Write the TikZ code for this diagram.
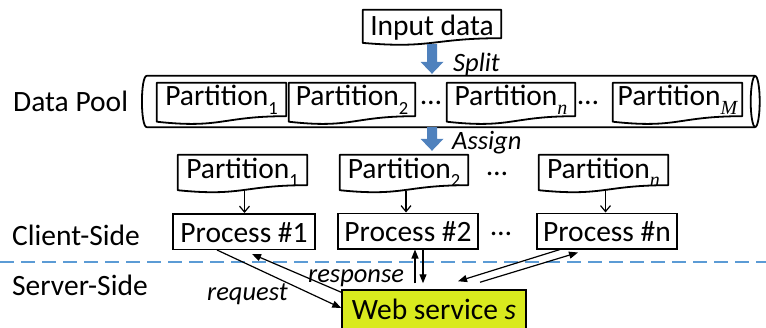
\documentclass[tikz,border=0pt]{standalone}
\usepackage{fontspec}
\setmainfont{Carlito}
\newfontfamily\subserif{Liberation Serif}
\usetikzlibrary{arrows.meta,calc}

\definecolor{arrowblue}{RGB}{79,129,189}
\definecolor{dashblue}{RGB}{91,155,213}
\definecolor{wsyellow}{RGB}{217,234,30}

% lowered subscripts: upright digit / italic letter
\newcommand\psub[1]{\raisebox{-0.3em}{\fontsize{18.5}{18.5}\selectfont #1}}
\newcommand\isub[1]{\raisebox{-0.3em}{\fontsize{20}{20}\selectfont\subserif\itshape #1}}

% page-style box with a wavy lower edge, drawn around a named node
\newcommand\docshape[1]{%
  \draw[docline] let \p1=(#1.north west), \p2=(#1.south east), \n1={\y1-\y2} in
    (\x1,\y1) -- (\x2,\y1) -- (\x2,\y2)
    .. controls ({(\x1+\x2)/2},\y2) and ({(\x1+\x2)/2},{\y2-0.38*\n1}) ..
    (\x1,{\y2-0.165*\n1}) -- cycle;}

% broad blue block arrow between two named points
\newcommand\blockarrow[2]{%
  \fill[arrowblue] let \p1=(#1), \p2=(#2) in
    (\x1-5pt,\y1) -- (\x1+5pt,\y1) -- (\x1+5pt,\y2+12pt) -- (\x1+11.5pt,\y2+12pt)
    -- (\x1,\y2) -- (\x1-11.5pt,\y2+12pt) -- (\x1-5pt,\y2+12pt) -- cycle;}

\tikzset{
  txt/.style={font=\fontsize{29.5}{30}\selectfont},
  docline/.style={line width=1.8pt, line join=round},
  docnode/.style={txt, inner sep=0pt, text height=19pt, text depth=#1},
  docnode/.default=7pt,
  procbox/.style={txt, draw, line width=1.5pt, inner sep=0pt,
    minimum height=35.5pt, text height=21pt, text depth=0pt},
  sidelbl/.style={txt, anchor=base west, inner sep=0pt},
  itlbl/.style={font=\fontsize{26.5}{28}\selectfont\itshape, anchor=base west, inner sep=0pt},
  dots/.style={txt, anchor=base, inner sep=0pt},
  msg/.style={line width=1.2pt, -{Triangle[length=9pt,width=7pt]}},
  feed/.style={line width=1.2pt, -{Straight Barb[length=6pt,width=10pt]}},
}

\begin{document}
\begin{tikzpicture}[x=1pt,y=-1pt]
\useasboundingbox (0,0) rectangle (766,327);
\clip (0,0) rectangle (766,327);

% input document
\node[docnode, text height=23pt, text depth=0pt, minimum width=138pt, minimum height=28pt]
  (indoc) at (432,24) {Input data};
\docshape{indoc}

% data pool cylinder
\node[inner sep=0pt, minimum width=618pt, minimum height=51pt] (pool) at (451,101.5) {};
\draw[docline] ([xshift=5pt]pool.north west) -- ([xshift=-5pt]pool.north east)
  ([xshift=5pt]pool.south west) -- ([xshift=-5pt]pool.south east)
  ([xshift=5pt]pool.north west) .. controls ([xshift=-1.5pt]pool.north west)
    and ([xshift=-1.5pt]pool.south west) .. ([xshift=5pt]pool.south west);
\draw[docline] ([xshift=-5pt]pool.east) ellipse [x radius=4.5pt, y radius=25.5pt];

% partitions inside the pool
\node[docnode, minimum width=129pt, minimum height=33pt] (pp1) at (221.5,99.5) {Partition\psub{1}};
\node[docnode, minimum width=126pt, minimum height=33pt] (pp2) at (352,99.5) {Partition\psub{2}};
\node[docnode, minimum width=128pt, minimum height=33pt] (ppn) at (511,99.5) {Partition\isub{n}};
\node[docnode, minimum width=129pt, minimum height=33pt] (ppm) at (677.5,99.5) {Partition\isub{M}};
\foreach \d in {pp1,pp2,ppn,ppm} {\docshape{\d}}
\node[dots] (pdots1) at (431,104) {…};
\node[dots] (pdots2) at (588,104) {…};

% assigned partitions
\node[docnode=3pt, minimum width=129pt, minimum height=30pt] (rp1) at (242.5,170) {Partition\psub{1}};
\node[docnode=3pt, minimum width=128pt, minimum height=30pt] (rp2) at (404,170) {Partition\psub{2}};
\node[docnode=3pt, minimum width=129pt, minimum height=30pt] (rpn) at (603.5,170) {Partition\isub{n}};
\foreach \d in {rp1,rp2,rpn} {\docshape{\d}}
\node[dots] (rdots) at (497,175) {…};

% client processes
\node[procbox, minimum width=142pt] (pr1) at (244,231.5) {Process \#1};
\node[procbox, minimum width=140pt] (pr2) at (408,231) {Process \#2};
\node[procbox, minimum width=140pt] (prn) at (607,231) {Process \#n};
\node[dots] (prdots) at (501,235) {…};

% web service
\node[txt, draw, fill=wsyellow, line width=1.5pt, inner sep=0pt, minimum width=184pt,
  minimum height=40pt, text height=19pt, text depth=0pt] (ws) at (434,310)
  {Web service \textit{s}};

% side labels and divider
\node[sidelbl] (lpool) at (13,111) {Data Pool};
\node[sidelbl] (lclient) at (12,245) {Client-Side};
\node[sidelbl] (lserver) at (12,295) {Server-Side};
\coordinate (divL) at (0,262);
\coordinate (divR) at (766,262);
\draw[dashblue, line width=1.3pt, dash pattern=on 14pt off 7pt] (divL) -- (divR);

% split / assign arrows
\coordinate (splitS) at ([yshift=-6pt]indoc.south);
\coordinate (splitE) at ([yshift=2pt]indoc.south |- pool.north);
\coordinate (assignS) at (indoc.south |- pool.south);
\coordinate (assignE) at ([yshift=4pt]indoc.south |- rp2.north);
\blockarrow{splitS}{splitE}
\blockarrow{assignS}{assignE}
\node[itlbl] (lsplit) at (453,71) {Split};
\node[itlbl] (lassign) at (452,149) {Assign};

% partitions feed processes
\foreach \p/\q in {rp1/pr1, rp2/pr2, rpn/prn}
  \draw[feed] ([xshift=2pt,yshift=-5.5pt]\p.south) -- ([xshift=2pt]\p.south |- \q.north);

% requests and responses
\draw[msg] ([xshift=-27pt]pr1.south) -- ([yshift=2pt]ws.west);
\draw[msg] ([yshift=-3pt]ws.north west) -- ([xshift=8pt,yshift=-4pt]pr1.south);
\draw[msg] ([xshift=7pt,yshift=6pt]pr2.south |- ws.north) -- ([xshift=7pt]pr2.south);
\draw[msg] ([xshift=15pt]pr2.south) -- ([xshift=15pt,yshift=6pt]pr2.south |- ws.north);
\draw[msg] ([xshift=-47pt]prn.south) -- ([xshift=24pt,yshift=8pt]ws.north);
\draw[msg] ([xshift=46pt,yshift=7pt]ws.north) -- ([xshift=-29pt,yshift=-3pt]prn.south);
\node[itlbl] (lreq) at (207,300) {request};
\node[itlbl] (lresp) at (308,282) {response};
\end{tikzpicture}
\end{document}
